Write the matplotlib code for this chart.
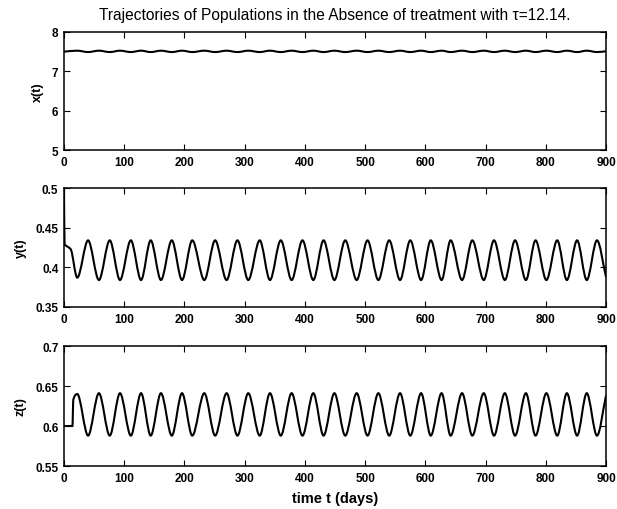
import numpy as np
import matplotlib
matplotlib.use('Agg')
import matplotlib.pyplot as plt
from matplotlib.path import Path
from matplotlib.patches import PathPatch

plt.rcParams['font.family'] = ['Liberation Sans', 'DejaVu Sans']

# times (days) of the y(t) maxima, which are also the z(t) minima
peak_times_y = [40, 76, 111, 144, 179, 213, 251, 288, 325, 360, 396, 431, 467,
                504, 540, 575, 609, 642, 678, 714, 749, 783, 819, 852, 885]
# times (days) of the y(t) minima, which are also the z(t) maxima
trough_times_y = [22, 58, 93, 128, 161, 196, 233, 270, 306, 342, 378, 414, 449,
                  486, 522, 558, 593, 627, 661, 697, 732, 767, 801, 835, 868]

# x(t): almost constant with a tiny ripple
x_start_t, x_start_v = [0], [7.50]
x_hi, x_lo = 7.525, 7.49
x_end = (900, 7.51)

# y(t): initial drop, then steady oscillation
y_start_t = [0, 1, 4, 11, 22]
y_start_v = [0.500, 0.429, 0.427, 0.423, 0.387]
y_hi, y_lo = 0.434, 0.384
y_end = (900, 0.388)

# z(t): flat start, jump, then steady oscillation
z_start_t = [0, 14, 15.5, 22]
z_start_v = [0.600, 0.600, 0.633, 0.640]
z_hi, z_lo = 0.641, 0.588
z_end = (900, 0.638)

x_ticks = list(range(0, 1000, 100))
panels = [
    ('x(t)', (5, 8), [5, 6, 7, 8]),
    ('y(t)', (0.35, 0.5), [0.35, 0.4, 0.45, 0.5]),
    ('z(t)', (0.55, 0.7), [0.55, 0.6, 0.65, 0.7]),
]


def knots(start_t, start_v, hi_times, hi, lo_times, lo, end):
    ev = [(t, hi) for t in hi_times] + [(t, lo) for t in lo_times]
    ev = [e for e in ev if e[0] > start_t[-1]]
    ev.sort()
    t = list(start_t) + [e[0] for e in ev] + [end[0]]
    v = list(start_v) + [e[1] for e in ev] + [end[1]]
    return np.array(t, float), np.array(v, float)


def smooth_path(t, v):
    # monotone cubic (Fritsch-Carlson) through the knots, as Bezier segments
    h = np.diff(t)
    d = np.diff(v) / h
    m = np.zeros_like(v)
    m[0], m[-1] = d[0], d[-1]
    for k in range(1, len(v) - 1):
        if d[k - 1] * d[k] > 0:
            w1 = 2 * h[k] + h[k - 1]
            w2 = h[k] + 2 * h[k - 1]
            m[k] = (w1 + w2) / (w1 / d[k - 1] + w2 / d[k])
    verts = [(t[0], v[0])]
    codes = [Path.MOVETO]
    for k in range(len(h)):
        verts += [(t[k] + h[k] / 3, v[k] + m[k] * h[k] / 3),
                  (t[k + 1] - h[k] / 3, v[k + 1] - m[k + 1] * h[k] / 3),
                  (t[k + 1], v[k + 1])]
        codes += [Path.CURVE4] * 3
    return Path(verts, codes)


series = [
    knots(x_start_t, x_start_v, trough_times_y, x_hi, peak_times_y, x_lo, x_end),
    knots(y_start_t, y_start_v, peak_times_y, y_hi, trough_times_y, y_lo, y_end),
    knots(z_start_t, z_start_v, trough_times_y, z_hi, peak_times_y, z_lo, z_end),
]

fig = plt.figure(figsize=(6.17, 5.10), dpi=100)
rects = [
    [0.1037, 0.7039, 0.8785, 0.2314],
    [0.1037, 0.3961, 0.8785, 0.2333],
    [0.1037, 0.0843, 0.8785, 0.2353],
]

for rect, (label, ylim, yticks), (t, v) in zip(rects, panels, series):
    ax = fig.add_axes(rect)
    ax.add_patch(PathPatch(smooth_path(t, v), fill=False, color='black', lw=1.5))
    ax.set_xlim(0, 900)
    ax.set_ylim(*ylim)
    ax.set_xticks(x_ticks)
    ax.set_yticks(yticks)
    ax.set_yticklabels(['%g' % y for y in yticks])
    ax.tick_params(direction='in', top=True, right=True, length=4, width=0.8,
                   labelsize=8.5, pad=4)
    for lab in ax.get_xticklabels() + ax.get_yticklabels():
        lab.set_fontweight('bold')
    for sp in ax.spines.values():
        sp.set_linewidth(1.1)
    ax.set_ylabel(label, fontsize=9, fontweight='bold', labelpad=6)
    if label == 'x(t)':
        ax.set_title('Trajectories of Populations in the Absence of treatment with \u03c4=12.14.',
                     fontsize=11.2, pad=9)
    if label == 'z(t)':
        ax.set_xlabel('time t (days)', fontsize=10.5, fontweight='bold', labelpad=5)

fig.savefig('out.png', dpi=100)
